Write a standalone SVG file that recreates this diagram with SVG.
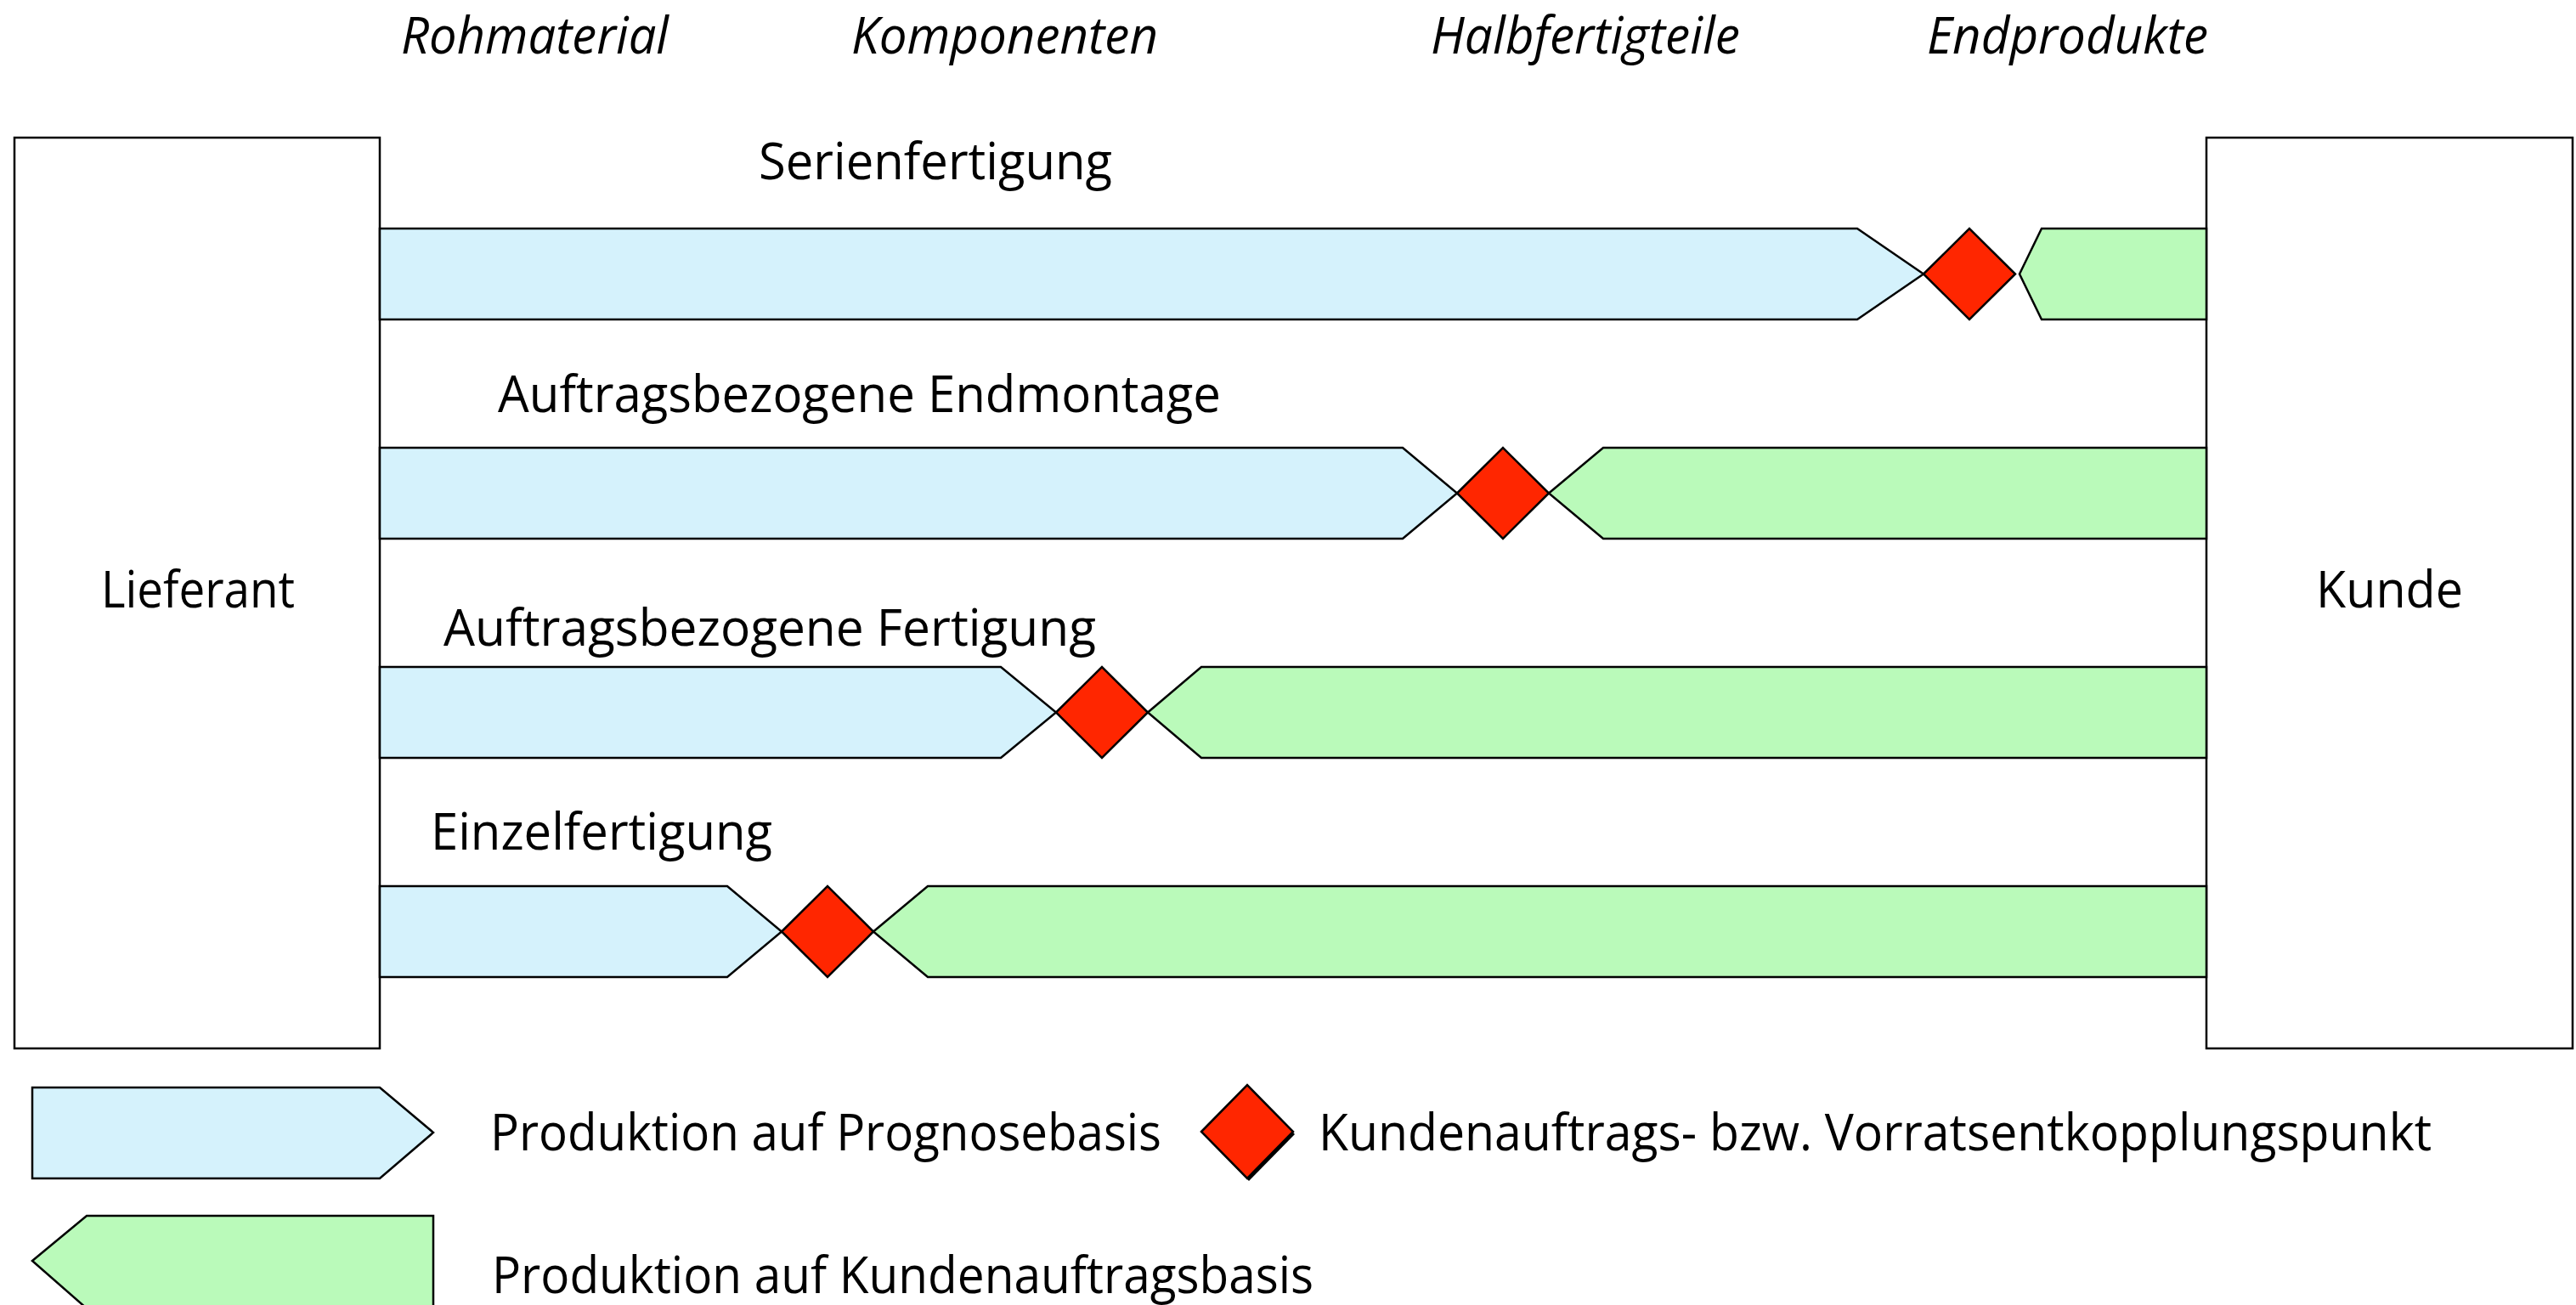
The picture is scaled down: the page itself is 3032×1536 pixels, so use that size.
<svg xmlns="http://www.w3.org/2000/svg" width="3032" height="1536" viewBox="0 0 3032 1536">
  <style>
    .box { fill: #ffffff; stroke: #000000; stroke-width: 2.5; }
    .fc { fill: #D5F2FC; stroke: #000000; stroke-width: 2.5; stroke-linejoin: miter; }
    .co { fill: #BAFABA; stroke: #000000; stroke-width: 2.5; stroke-linejoin: miter; }
    .dp { fill: #FF2600; stroke: #000000; stroke-width: 2.5; stroke-linejoin: miter; }
    .shadow { fill: #000000; }
    text { font-family: "Open Sans", "Noto Sans", "Liberation Sans", sans-serif; font-size: 60px; fill: #000000; }
    .stage { font-style: italic; }
  </style>

  <rect width="3032" height="1536" fill="#ffffff"/>

  <!-- material stages across the top -->
  <g id="stages">
    <text class="stage" x="472" y="63" textLength="315" lengthAdjust="spacingAndGlyphs">Rohmaterial</text>
    <text class="stage" x="1002" y="63" textLength="361" lengthAdjust="spacingAndGlyphs">Komponenten</text>
    <text class="stage" x="1684" y="63" textLength="364" lengthAdjust="spacingAndGlyphs">Halbfertigteile</text>
    <text class="stage" x="2268" y="63" textLength="331" lengthAdjust="spacingAndGlyphs">Endprodukte</text>
  </g>

  <!-- end boxes -->
  <g id="lieferant">
    <rect class="box" x="17" y="162" width="430" height="1072"/>
    <text x="119" y="715" textLength="228" lengthAdjust="spacingAndGlyphs">Lieferant</text>
  </g>
  <g id="kunde">
    <rect class="box" x="2597" y="162" width="431" height="1072"/>
    <text x="2726" y="715" textLength="173" lengthAdjust="spacingAndGlyphs">Kunde</text>
  </g>

  <!-- row 1: Serienfertigung -->
  <g id="serienfertigung">
    <text x="893" y="211" textLength="416" lengthAdjust="spacingAndGlyphs">Serienfertigung</text>
    <polygon class="fc" points="447,269 2186,269 2264,322.5 2186,376 447,376"/>
    <polygon class="dp" points="2264,322.5 2318,269 2372,322.5 2318,376"/>
    <polygon class="co" points="2377,322.5 2403,269 2597,269 2597,376 2403,376"/>
  </g>

  <!-- row 2: Auftragsbezogene Endmontage -->
  <g id="endmontage">
    <text x="586" y="485" textLength="851" lengthAdjust="spacingAndGlyphs">Auftragsbezogene Endmontage</text>
    <polygon class="fc" points="447,527 1651,527 1715,580.5 1651,634 447,634"/>
    <polygon class="dp" points="1715,580.5 1769,527 1823,580.5 1769,634"/>
    <polygon class="co" points="1823,580.5 1887,527 2597,527 2597,634 1887,634"/>
  </g>

  <!-- row 3: Auftragsbezogene Fertigung -->
  <g id="fertigung">
    <text x="522" y="760" textLength="768" lengthAdjust="spacingAndGlyphs">Auftragsbezogene Fertigung</text>
    <polygon class="fc" points="447,785 1178,785 1243,838.5 1178,892 447,892"/>
    <polygon class="dp" points="1243,838.5 1297,785 1351,838.5 1297,892"/>
    <polygon class="co" points="1351,838.5 1414,785 2597,785 2597,892 1414,892"/>
  </g>

  <!-- row 4: Einzelfertigung -->
  <g id="einzelfertigung">
    <text x="507" y="1000" textLength="402" lengthAdjust="spacingAndGlyphs">Einzelfertigung</text>
    <polygon class="fc" points="447,1043 856,1043 920,1096.5 856,1150 447,1150"/>
    <polygon class="dp" points="920,1096.5 974,1043 1028,1096.5 974,1150"/>
    <polygon class="co" points="1028,1096.5 1092,1043 2597,1043 2597,1150 1092,1150"/>
  </g>

  <g id="connectors"/>

  <!-- legend -->
  <g id="legend-prognose">
    <polygon class="fc" points="38,1280 447,1280 510,1333 447,1387 38,1387"/>
    <text x="577" y="1354" textLength="790" lengthAdjust="spacingAndGlyphs">Produktion auf Prognosebasis</text>
  </g>
  <g id="legend-entkopplung">
    <polygon class="shadow" points="1416,1335 1470,1280 1524,1335 1470,1390"/>
    <polygon class="dp" points="1414,1332 1468,1277 1522,1332 1468,1387"/>
    <text x="1552" y="1354" textLength="1310" lengthAdjust="spacingAndGlyphs">Kundenauftrags- bzw. Vorratsentkopplungspunkt</text>
  </g>
  <g id="legend-kundenauftrag">
    <polygon class="co" points="38,1484 102,1431 510,1431 510,1540 102,1540"/>
    <text x="579" y="1522" textLength="967" lengthAdjust="spacingAndGlyphs">Produktion auf Kundenauftragsbasis</text>
  </g>
</svg>
